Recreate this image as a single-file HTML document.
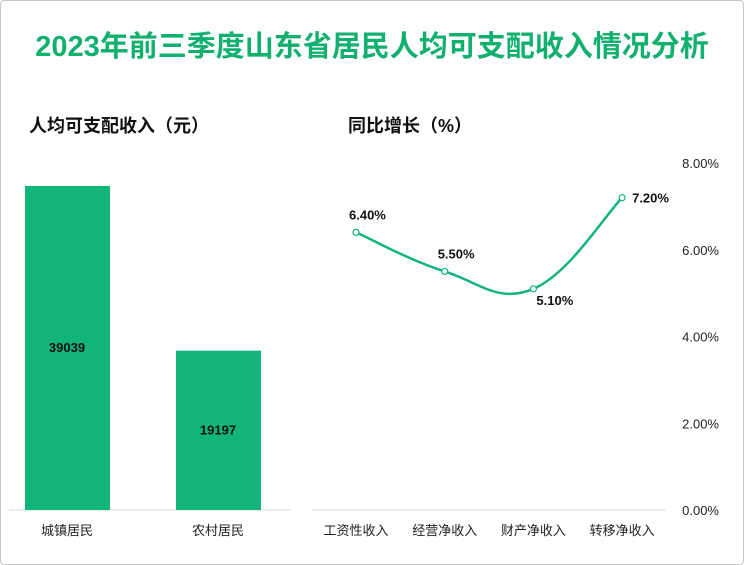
<!DOCTYPE html>
<html><head><meta charset="utf-8">
<style>
body{margin:0;background:#fff;}
#wrap{position:relative;width:742px;height:563px;border:1px solid #c8c8c8;border-radius:4px;overflow:hidden;font-family:"Liberation Sans","Noto Sans CJK SC",sans-serif;}
</style></head><body>
<div id="wrap">
<svg id="svg" width="742" height="563" xmlns="http://www.w3.org/2000/svg" font-family="Liberation Sans, Noto Sans CJK SC, sans-serif">
<text x="371" y="55" text-anchor="middle" font-size="29" font-weight="bold" fill="#11b06e">2023年前三季度山东省居民人均可支配收入情况分析</text>
<text x="28" y="131" font-size="18" font-weight="bold" fill="#111">人均可支配收入（元）</text>
<text x="347" y="131" font-size="18" font-weight="bold" fill="#111">同比增长（%）</text>
<line x1="8" y1="509" x2="290" y2="509" stroke="#ddd"/>
<line x1="310" y1="509" x2="665" y2="509" stroke="#ddd"/>
<g id="left"></g><g id="right"></g>
</svg>
</div>
<script>
const barCats=["城镇居民","农村居民"];
const barVals=[39039,19197];
const lineCats=["工资性收入","经营净收入","财产净收入","转移净收入"];
const lineVals=[6.40,5.50,5.10,7.20];
const yTicks=[0,2,4,6,8];
const NS="http://www.w3.org/2000/svg";
function mk(t,a,p){const e=document.createElementNS(NS,t);for(const k in a)e.setAttribute(k,a[k]);p.appendChild(e);return e;}
const base=509;
const by=v=>base-v*(324/39039);
const bx=i=>66+i*151;
const L=document.getElementById('left');
barVals.forEach((v,i)=>{
 const r=mk('rect',{x:bx(i)-42,y:by(v),width:85,height:base-by(v),fill:'#11b57a'},L);
 
 
 const t=mk('text',{x:bx(i),y:(by(v)+base)/2+4,'text-anchor':'middle','font-size':13,'font-weight':'bold',fill:'#111'},L);t.textContent=v;
 
 
 const c=mk('text',{x:bx(i),y:534,'text-anchor':'middle','font-size':13,fill:'#222'},L);c.textContent=barCats[i];
 
 
});
const R=document.getElementById('right');
const ly=v=>base-v*(347/8);
const lx=i=>355+i*88.7;
yTicks.forEach(v=>{
 const t=mk('text',{x:718,y:ly(v)+5,'text-anchor':'end','font-size':13,fill:'#222'},R);t.textContent=v.toFixed(2)+'%';
 
 
});
const pts=lineVals.map((v,i)=>[lx(i),ly(v)]);
let d='M'+pts[0][0]+','+pts[0][1];
for(let i=0;i<pts.length-1;i++){
 const p0=pts[Math.max(0,i-1)],p1=pts[i],p2=pts[i+1],p3=pts[Math.min(pts.length-1,i+2)];
 const t=0.2;
 d+=` C${p1[0]+(p2[0]-p0[0])*t},${p1[1]+(p2[1]-p0[1])*t} ${p2[0]-(p3[0]-p1[0])*t},${p2[1]-(p3[1]-p1[1])*t} ${p2[0]},${p2[1]}`;
}
const path=mk('path',{d:d,fill:'none',stroke:'#11b57a','stroke-width':2.5},R);


const off=[[-7,-13],[-7,-13],[3,16],[10,5]];
lineVals.forEach((v,i)=>{
 const c=mk('circle',{cx:pts[i][0],cy:pts[i][1],r:3,fill:'#fff',stroke:'#11b57a','stroke-width':1.2},R);
 
 
 const t=mk('text',{x:pts[i][0]+off[i][0],y:pts[i][1]+off[i][1],'font-size':13,'font-weight':'bold',fill:'#111'},R);t.textContent=v.toFixed(2)+'%';
 
 
 const l=mk('text',{x:pts[i][0],y:534,'text-anchor':'middle','font-size':13,fill:'#222'},R);l.textContent=lineCats[i];
 
 
});
</script>
</body></html>
